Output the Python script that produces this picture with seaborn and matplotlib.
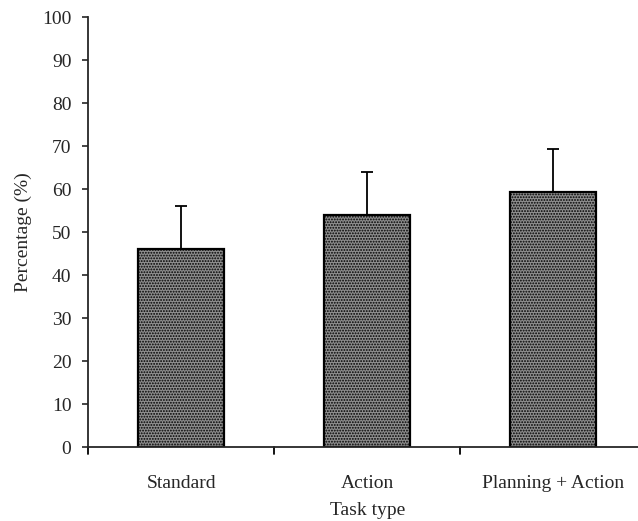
import pandas as pd
import matplotlib
matplotlib.use('Agg')
import matplotlib.pyplot as plt
import seaborn as sns

tasks = ['Standard', 'Action', 'Planning + Action']
percent = [46, 54, 59.3]
sd = [10, 10, 10]

df = pd.DataFrame({'task': tasks, 'pct': percent})

sns.set_style('ticks')
plt.rcParams['font.family'] = ['Liberation Serif', 'DejaVu Serif']
plt.rcParams['hatch.color'] = '#333333'
plt.rcParams['hatch.linewidth'] = 0.9

fig = plt.figure(figsize=(6.38, 5.21), dpi=100)
ax = fig.add_axes([0.138, 0.142, 0.875, 0.825])

sns.barplot(data=df, x='task', y='pct', ax=ax, color='#8e8e8e', width=0.46,
            edgecolor='black', linewidth=1.6, errorbar=None, saturation=1)
for p in ax.patches:
    p.set_hatch('......')

ax.errorbar(range(len(tasks)), percent, yerr=[[0] * len(sd), sd], fmt='none',
            ecolor='black', elinewidth=1.3, capsize=4, capthick=1.3)

ax.set_xlim(-0.5, 2.5)
ax.set_ylim(0, 100)
ax.set_yticks(range(0, 101, 10))
ax.set_xticks(range(len(tasks)))
ax.set_xticklabels(tasks)
ax.tick_params(axis='x', length=0, pad=20, labelsize=14)
ax.tick_params(axis='y', length=4, width=1.2, pad=8, labelsize=14, direction='out')

# category boundary ticks below the axis
for b in [-0.5, 0.5, 1.5]:
    ax.plot([b, b], [0, -1.6], color='black', lw=1.3, clip_on=False)

ax.set_xlabel('Task type', fontsize=14)
ax.set_ylabel('Percentage (%)', fontsize=14)
ax.xaxis.set_label_coords(0.5, -0.127)
ax.yaxis.set_label_coords(-0.10, 0.5)

for s in ['left', 'bottom']:
    ax.spines[s].set_linewidth(1.3)
sns.despine(ax=ax)

fig.savefig('out.png', dpi=100)
